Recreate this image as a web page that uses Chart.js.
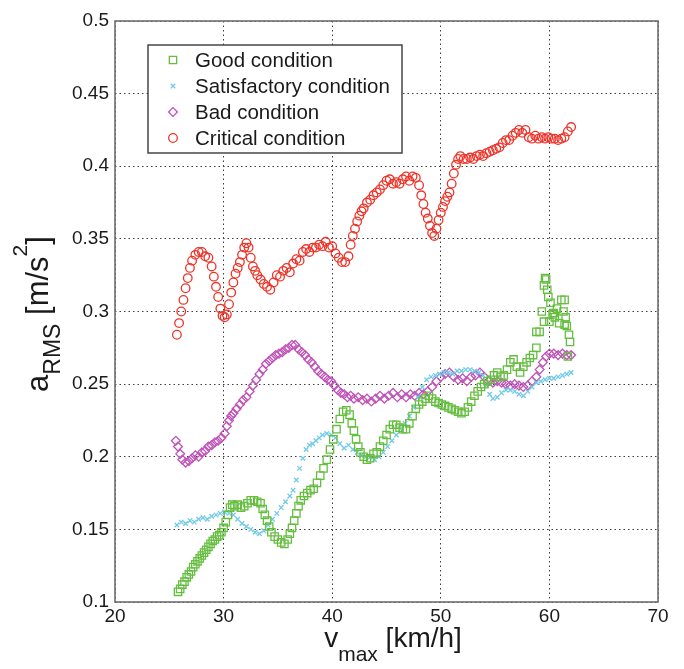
<!DOCTYPE html>
<html>
<head>
<meta charset="utf-8">
<script src="https://cdn.jsdelivr.net/npm/chart.js@4/dist/chart.umd.min.js"></script>
<style>
html,body{margin:0;padding:0;background:#fff;}
#wrap{position:relative;width:684px;height:669px;}
</style>
</head>
<body>
<div id="wrap"><canvas id="c" width="684" height="669"></canvas></div>
<script>
// ---- Data ----
const seriesNames = ['Good condition','Satisfactory condition','Bad condition','Critical condition'];
const xTickLabels = ['20','30','40','50','60','70'];
const yTickLabels = ['0.1','0.15','0.2','0.25','0.3','0.35','0.4','0.45','0.5'];

const goodX = [25.8,26.0,26.2,26.4,26.6,26.8,27.0,27.2,27.4,27.6,27.8,28.0,28.2,28.4,28.6,28.8,29.0,29.2,29.4,29.6,29.8,30.0,30.2,30.4,30.6,30.8,31.0,31.3,31.6,31.9,32.2,32.5,32.8,33.1,33.4,33.6,33.8,34.0,34.2,34.4,34.7,35.0,35.3,35.6,35.9,36.1,36.3,36.5,36.7,36.9,37.1,37.4,37.7,38.0,38.3,38.6,38.9,39.2,39.5,39.8,40.1,40.4,40.7,41.0,41.3,41.6,41.8,42.0,42.2,42.4,42.6,42.9,43.2,43.5,43.8,44.1,44.4,44.7,45.0,45.3,45.6,45.9,46.2,46.5,46.8,47.1,47.4,47.7,48.0,48.3,48.6,48.9,49.2,49.5,49.8,50.1,50.4,50.7,51.0,51.3,51.6,51.9,52.2,52.5,52.8,53.1,53.4,53.7,54.0,54.3,54.6,54.9,55.2,55.5,55.8,56.1,56.4,56.7,57.0,57.3,57.6,57.9,58.2,58.5,58.8,59.1,59.3,59.5,59.6,59.7,59.8,59.9,60.0,60.1,60.3,60.5,60.7,60.9,61.1,61.3,61.4,61.5,61.6,61.8,61.9,58.8,59.5,60.4,61.4,61.7];
const goodY = [0.107,0.109,0.112,0.114,0.117,0.119,0.121,0.124,0.126,0.128,0.130,0.132,0.134,0.136,0.138,0.140,0.142,0.143,0.145,0.146,0.148,0.151,0.155,0.160,0.165,0.167,0.166,0.167,0.165,0.166,0.168,0.170,0.170,0.169,0.168,0.164,0.160,0.156,0.152,0.148,0.145,0.143,0.141,0.140,0.143,0.147,0.151,0.156,0.161,0.166,0.170,0.173,0.175,0.177,0.178,0.182,0.187,0.192,0.198,0.205,0.212,0.219,0.226,0.231,0.232,0.229,0.223,0.218,0.212,0.207,0.203,0.200,0.198,0.199,0.202,0.203,0.207,0.211,0.215,0.219,0.222,0.222,0.220,0.219,0.219,0.223,0.228,0.233,0.236,0.238,0.240,0.242,0.240,0.238,0.237,0.236,0.235,0.234,0.233,0.232,0.231,0.230,0.231,0.234,0.238,0.242,0.245,0.248,0.250,0.252,0.253,0.256,0.258,0.255,0.256,0.260,0.265,0.267,0.262,0.258,0.262,0.265,0.268,0.270,0.275,0.286,0.300,0.318,0.323,0.322,0.315,0.310,0.293,0.306,0.298,0.296,0.302,0.292,0.308,0.300,0.308,0.296,0.290,0.284,0.279,0.286,0.293,0.299,0.291,0.269];

const satX = [25.7,26.1,26.5,26.9,27.3,27.7,28.1,28.5,28.9,29.3,29.7,30.1,30.5,30.9,31.3,31.7,32.1,32.5,32.9,33.3,33.7,34.1,34.5,34.9,35.3,35.7,36.1,36.4,36.7,37.0,37.3,37.6,37.9,38.2,38.5,38.8,39.1,39.5,39.9,40.3,40.7,41.1,41.5,41.9,42.3,42.7,43.1,43.5,43.9,44.3,44.7,45.1,45.5,45.9,46.3,46.7,47.1,47.5,47.9,48.3,48.7,49.1,49.5,49.9,50.3,50.7,51.1,51.5,51.9,52.3,52.7,53.1,53.5,53.9,54.2,54.5,54.8,55.2,55.6,56.0,56.4,56.8,57.2,57.6,58.0,58.4,58.8,59.2,59.6,60.0,60.4,60.8,61.2,61.6,62.0];
const satY = [0.153,0.155,0.154,0.156,0.155,0.157,0.158,0.157,0.159,0.160,0.161,0.162,0.161,0.160,0.157,0.154,0.152,0.150,0.148,0.147,0.149,0.153,0.157,0.161,0.165,0.169,0.173,0.177,0.184,0.192,0.199,0.205,0.208,0.209,0.211,0.213,0.215,0.216,0.215,0.213,0.209,0.206,0.208,0.205,0.203,0.201,0.200,0.200,0.198,0.200,0.203,0.207,0.211,0.215,0.219,0.223,0.228,0.234,0.241,0.248,0.253,0.255,0.256,0.257,0.258,0.258,0.257,0.259,0.259,0.260,0.260,0.259,0.258,0.256,0.249,0.243,0.240,0.241,0.244,0.246,0.246,0.245,0.243,0.242,0.245,0.248,0.251,0.252,0.253,0.254,0.254,0.255,0.256,0.257,0.258];

const badX = [25.6,25.8,26.0,26.2,26.5,26.8,27.1,27.4,27.7,28.0,28.3,28.6,28.9,29.2,29.5,29.8,30.1,30.3,30.5,30.7,30.9,31.2,31.5,31.8,32.1,32.4,32.7,33.0,33.3,33.6,33.9,34.2,34.5,34.8,35.1,35.4,35.7,36.0,36.3,36.6,36.9,37.2,37.5,37.8,38.1,38.4,38.7,39.0,39.3,39.6,39.9,40.2,40.5,40.8,41.1,41.4,41.7,42.0,42.4,42.8,43.2,43.6,44.0,44.4,44.8,45.2,45.6,46.0,46.4,46.8,47.2,47.6,48.0,48.4,48.8,49.2,49.6,50.0,50.4,50.8,51.2,51.6,52.0,52.4,52.8,53.2,53.6,54.0,54.4,54.8,55.2,55.6,56.0,56.4,56.8,57.2,57.6,58.0,58.4,58.8,59.1,59.4,59.7,60.0,60.4,60.8,61.2,61.6,62.0];
const badY = [0.211,0.207,0.202,0.198,0.196,0.197,0.199,0.201,0.200,0.203,0.204,0.207,0.208,0.210,0.211,0.213,0.216,0.221,0.225,0.228,0.230,0.233,0.236,0.239,0.241,0.245,0.249,0.253,0.257,0.260,0.264,0.266,0.268,0.270,0.271,0.272,0.274,0.275,0.277,0.277,0.274,0.272,0.270,0.267,0.265,0.262,0.259,0.257,0.255,0.253,0.252,0.249,0.246,0.244,0.243,0.241,0.242,0.240,0.241,0.239,0.240,0.238,0.240,0.242,0.240,0.242,0.244,0.241,0.243,0.241,0.243,0.242,0.244,0.243,0.245,0.248,0.252,0.255,0.257,0.258,0.255,0.253,0.254,0.252,0.255,0.256,0.258,0.255,0.252,0.251,0.252,0.251,0.250,0.249,0.250,0.249,0.248,0.249,0.252,0.255,0.260,0.265,0.269,0.271,0.271,0.270,0.271,0.270,0.270];

const critX = [25.7,25.9,26.1,26.3,26.5,26.7,26.9,27.1,27.4,27.7,28.0,28.3,28.6,28.9,29.1,29.3,29.5,29.7,29.9,30.1,30.3,30.5,30.7,30.9,31.1,31.3,31.5,31.7,31.9,32.1,32.3,32.5,32.7,32.9,33.1,33.4,33.7,34.0,34.3,34.6,34.9,35.2,35.5,35.8,36.1,36.4,36.7,37.0,37.3,37.6,37.9,38.2,38.5,38.8,39.1,39.4,39.7,40.0,40.3,40.6,40.9,41.2,41.5,41.7,41.9,42.1,42.3,42.5,42.7,42.9,43.2,43.5,43.8,44.1,44.4,44.7,45.0,45.3,45.6,45.9,46.2,46.5,46.8,47.1,47.4,47.7,48.0,48.2,48.4,48.6,48.8,49.0,49.2,49.4,49.6,49.8,50.0,50.2,50.4,50.6,50.8,51.0,51.2,51.4,51.6,51.8,52.1,52.4,52.7,53.0,53.3,53.6,53.9,54.2,54.5,54.8,55.1,55.4,55.7,56.0,56.3,56.6,56.9,57.2,57.5,57.8,58.1,58.4,58.7,59.0,59.3,59.6,59.9,60.2,60.5,60.8,61.1,61.4,61.7,62.0];
const critY = [0.284,0.292,0.300,0.308,0.316,0.323,0.330,0.335,0.339,0.341,0.341,0.338,0.337,0.331,0.324,0.317,0.310,0.302,0.297,0.296,0.298,0.305,0.313,0.320,0.326,0.330,0.334,0.339,0.344,0.347,0.344,0.337,0.331,0.328,0.325,0.322,0.319,0.317,0.315,0.320,0.325,0.324,0.328,0.330,0.327,0.333,0.336,0.335,0.341,0.343,0.341,0.344,0.344,0.346,0.345,0.348,0.344,0.345,0.340,0.337,0.334,0.334,0.338,0.346,0.352,0.357,0.362,0.366,0.369,0.371,0.375,0.377,0.380,0.382,0.384,0.387,0.390,0.391,0.388,0.389,0.388,0.391,0.393,0.390,0.393,0.392,0.387,0.380,0.374,0.368,0.364,0.359,0.354,0.352,0.357,0.363,0.368,0.372,0.376,0.379,0.382,0.388,0.395,0.401,0.405,0.407,0.405,0.405,0.406,0.405,0.407,0.408,0.407,0.409,0.410,0.411,0.412,0.413,0.416,0.418,0.418,0.421,0.423,0.425,0.423,0.425,0.420,0.419,0.421,0.419,0.420,0.419,0.420,0.419,0.419,0.418,0.419,0.420,0.424,0.427];

// ---- Build ----
const toPts = (xs, ys) => xs.map((x, i) => ({x: x, y: ys[i]}));
const FONT = '"Liberation Sans", Arial, sans-serif';

const styles = [
  {color: 'rgb(102,190,64)',  pointStyle: 'rect',     radius: 5.2, rotation: 0},
  {color: 'rgb(112,202,232)', pointStyle: 'crossRot', radius: 3.2, rotation: 0},
  {color: 'rgb(192,82,184)',  pointStyle: 'rectRot',  radius: 4.4, rotation: 0},
  {color: 'rgb(238,52,42)',   pointStyle: 'circle',   radius: 4.3, rotation: 0}
];
const allData = [toPts(goodX, goodY), toPts(satX, satY), toPts(badX, badY), toPts(critX, critY)];

const datasets = allData.map((d, i) => ({
  label: seriesNames[i],
  data: d,
  showLine: false,
  borderColor: styles[i].color,
  backgroundColor: 'rgba(0,0,0,0)',
  pointStyle: styles[i].pointStyle,
  pointRadius: styles[i].radius,
  pointHoverRadius: styles[i].radius,
  pointBorderWidth: 1.3
}));

function drawMarker(ctx, st, x, y) {
  ctx.save();
  ctx.strokeStyle = st.color;
  ctx.lineWidth = 1.3;
  ctx.beginPath();
  const r = st.radius;
  if (st.pointStyle === 'circle') {
    ctx.arc(x, y, r, 0, Math.PI * 2);
  } else if (st.pointStyle === 'rect') {
    const s = Math.SQRT1_2 * r;
    ctx.rect(x - s, y - s, 2 * s, 2 * s);
  } else if (st.pointStyle === 'rectRot') {
    ctx.moveTo(x - r, y); ctx.lineTo(x, y - r); ctx.lineTo(x + r, y); ctx.lineTo(x, y + r); ctx.closePath();
  } else if (st.pointStyle === 'crossRot') {
    const o = Math.SQRT1_2 * r;
    ctx.moveTo(x - o, y - o); ctx.lineTo(x + o, y + o);
    ctx.moveTo(x - o, y + o); ctx.lineTo(x + o, y - o);
  }
  ctx.stroke();
  ctx.restore();
}

const decorPlugin = {
  id: 'decor',
  afterDraw(chart) {
    const ctx = chart.ctx;
    const a = chart.chartArea;
    // frame
    ctx.save();
    ctx.strokeStyle = '#6e6e6e';
    ctx.lineWidth = 1.6;
    ctx.strokeRect(a.left, a.top, a.right - a.left, a.bottom - a.top);
    ctx.restore();

    // legend box
    const lx = 148, ly = 45, lw = 254, lh = 108;
    ctx.save();
    ctx.fillStyle = '#fff';
    ctx.fillRect(lx, ly, lw, lh);
    ctx.strokeStyle = '#3a3a3a';
    ctx.lineWidth = 1.4;
    ctx.strokeRect(lx, ly, lw, lh);
    ctx.font = '20.5px ' + FONT;
    ctx.fillStyle = '#1a1a1a';
    ctx.textBaseline = 'middle';
    ctx.textAlign = 'left';
    const rows = [60, 86, 112, 138];
    seriesNames.forEach((n, i) => {
      drawMarker(ctx, styles[i], 173, rows[i]);
      ctx.fillText(n, 195, rows[i] + 1);
    });
    ctx.restore();

    // x axis title: v_max [km/h]
    ctx.save();
    ctx.fillStyle = '#1a1a1a';
    ctx.textBaseline = 'alphabetic';
    ctx.textAlign = 'left';
    const big = '28px ' + FONT, sub = '21px ' + FONT;
    ctx.font = big; const wv = ctx.measureText('v').width;
    ctx.font = sub; const wm = ctx.measureText('max').width;
    ctx.font = big; const wk = ctx.measureText(' [km/h]').width;
    let x0 = 393 - (wv + wm + wk) / 2;
    const by = 647;
    ctx.font = big; ctx.fillText('v', x0, by);
    ctx.font = sub; ctx.fillText('max', x0 + wv, by + 14);
    ctx.font = big; ctx.fillText(' [km/h]', x0 + wv + wm, by);
    ctx.restore();

    // y axis title: a_RMS [m/s^2]
    ctx.save();
    ctx.fillStyle = '#1a1a1a';
    ctx.textBaseline = 'alphabetic';
    ctx.textAlign = 'left';
    const ybig = '31px ' + FONT, ysub = '23px ' + FONT, ysup = '21px ' + FONT;
    ctx.font = ybig; const wa = ctx.measureText('a').width;
    ctx.font = ysub; const wr = ctx.measureText('RMS').width;
    ctx.font = ybig; const wb = ctx.measureText(' [m/s').width;
    ctx.font = ysup; const w2 = ctx.measureText('2').width;
    ctx.font = ybig; const wc = ctx.measureText(']').width;
    const tot = wa + wr + wb + w2 + wc;
    ctx.translate(48, 314 + tot / 2);
    ctx.rotate(-Math.PI / 2);
    let t = 0;
    ctx.font = ybig; ctx.fillText('a', t, 0); t += wa;
    ctx.font = ysub; ctx.fillText('RMS', t, 12); t += wr;
    ctx.font = ybig; ctx.fillText(' [m/s', t, 0); t += wb;
    ctx.font = ysup; ctx.fillText('2', t, -21); t += w2;
    ctx.font = ybig; ctx.fillText(']', t, 0);
    ctx.restore();
  }
};

new Chart(document.getElementById('c'), {
  type: 'scatter',
  data: {datasets: datasets},
  options: {
    responsive: false,
    animation: false,
    devicePixelRatio: 1,
    layout: {padding: {left: 0, top: 21, right: 26, bottom: 0}},
    plugins: {legend: {display: false}, tooltip: {enabled: false}},
    scales: {
      x: {
        type: 'linear', min: 20, max: 70,
        afterFit: s => { s.height = 67; },
        ticks: {
          stepSize: 10, padding: 3, color: '#1a1a1a',
          font: {family: FONT, size: 19},
          callback: (v) => xTickLabels[Math.round((v - 20) / 10)]
        },
        grid: {color: '#3c3c3c', lineWidth: 1, drawTicks: false},
        border: {display: false, dash: [1.5, 3]}
      },
      y: {
        type: 'linear', min: 0.1, max: 0.5,
        afterFit: s => { s.width = 115; },
        ticks: {
          stepSize: 0.05, padding: 6, color: '#1a1a1a',
          font: {family: FONT, size: 19},
          callback: (v) => yTickLabels[Math.round((v - 0.1) / 0.05)]
        },
        grid: {color: '#3c3c3c', lineWidth: 1, drawTicks: false},
        border: {display: false, dash: [1.5, 3]}
      }
    }
  },
  plugins: [decorPlugin]
});
</script>
</body>
</html>
